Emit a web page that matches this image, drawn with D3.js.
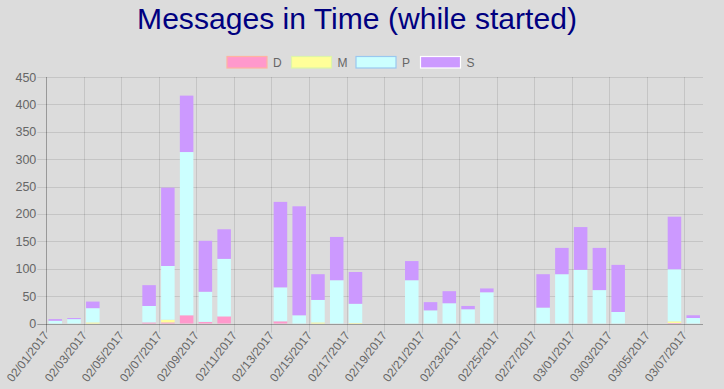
<!DOCTYPE html>
<html><head><meta charset="utf-8">
<script src="https://cdnjs.cloudflare.com/ajax/libs/d3/7.8.5/d3.min.js"></script>
<style>html,body{margin:0;padding:0;background:#dcdcdc;}svg{display:block;font-family:"Liberation Sans",Arial,Helvetica,sans-serif;}</style>
</head><body><svg id="c" width="724" height="389"></svg>
<script>
const dates = ["02/01/2017","02/02/2017","02/03/2017","02/04/2017","02/05/2017","02/06/2017","02/07/2017","02/08/2017","02/09/2017","02/10/2017","02/11/2017","02/12/2017","02/13/2017","02/14/2017","02/15/2017","02/16/2017","02/17/2017","02/18/2017","02/19/2017","02/20/2017","02/21/2017","02/22/2017","02/23/2017","02/24/2017","02/25/2017","02/26/2017","02/27/2017","02/28/2017","03/01/2017","03/02/2017","03/03/2017","03/04/2017","03/05/2017","03/06/2017","03/07/2017"];
const seriesD = [0,0,0,0,0,2,2,15,3,13,0,0,4,0,0,0,0,0,0,0,0,0,0,0,0,0,0,0,0,0,0,0,0,1,0];
const seriesM = [0,0,2,0,0,0,5,0,0,0,0,0,0,0,2,0,1,0,0,0,0,0,0,0,0,0,0,0,0,0,0,0,0,3,0];
const seriesP = [5,8,26,0,0,30,98,298,55,105,0,0,62,15,41,79,35,0,0,79,24,37,26,57,0,0,29,90,98,61,21,0,0,95,10];
const seriesS = [3,2,12,0,0,38,143,103,93,54,0,0,156,199,47,79,58,0,0,35,15,22,6,7,0,0,61,48,78,77,86,0,0,96,5];
const seriesNames = ["D","M","P","S"];
const tickLabels = ["02/01/2017","02/03/2017","02/05/2017","02/07/2017","02/09/2017","02/11/2017","02/13/2017","02/15/2017","02/17/2017","02/19/2017","02/21/2017","02/23/2017","02/25/2017","02/27/2017","03/01/2017","03/03/2017","03/05/2017","03/07/2017"];
const yTicks = [0,50,100,150,200,250,300,350,400,450];
const title = "Messages in Time (while started)";

const fills = {D:"#ff99cc", M:"#ffff99", P:"#ccffff", S:"#cc99ff"};
const borders = {D:"#ffb3a0", M:"#ddf5a8", P:"#99c8f0", S:"#ffffff"};

const parse = d3.timeParse("%m/%d/%Y");
const svg = d3.select("#c");
const L = 46.3, R = 703, T = 77, B = 323.5;

const x = d3.scaleTime().domain([parse(dates[0]), d3.timeDay.offset(parse(dates[dates.length-1]),1)]).range([L, R]);
const y = d3.scaleLinear().domain([0,450]).range([B, T]);
const dayW = x(d3.timeDay.offset(parse(dates[0]),1)) - x(parse(dates[0]));
const barW = dayW * 0.72;

// title
const t = svg.append("text").attr("x", 357).attr("y", 29).attr("text-anchor","middle")
  .attr("fill","#000080").attr("font-size",100).text(title);
const w100 = t.node().getComputedTextLength();
t.attr("font-size", 100*440/w100);

// legend
const legX = [227, 291.5, 356, 420.5];
seriesNames.forEach((n,i)=>{
  svg.append("rect").attr("x", legX[i]).attr("y", 56.5).attr("width", 40).attr("height", 11.5)
    .attr("fill", fills[n]).attr("stroke", borders[n]).attr("stroke-width", 1.2);
  svg.append("text").attr("x", legX[i]+46).attr("y", 66.5).attr("fill","#666").attr("font-size",12).text(n);
});

// grid
const g = svg.append("g");
yTicks.forEach(v=>{
  g.append("line").attr("x1", L-9).attr("x2", R).attr("y1", Math.round(y(v))+0.5).attr("y2", Math.round(y(v))+0.5)
    .attr("stroke", v===0 ? "rgba(0,0,0,0.3)" : "rgba(0,0,0,0.1)").attr("stroke-width",1);
  g.append("text").attr("x", L-10).attr("y", y(v)+4.5).attr("text-anchor","end").attr("fill","#666").attr("font-size",12.5).text(v);
});
tickLabels.forEach((lab,i)=>{
  const xx = Math.round(x(parse(lab)))+0.5;
  g.append("line").attr("x1", xx).attr("x2", xx).attr("y1", T).attr("y2", B+9)
    .attr("stroke", i===0 ? "rgba(0,0,0,0.3)" : "rgba(0,0,0,0.1)").attr("stroke-width",1);
  g.append("text").attr("transform", `translate(${xx+3},${B+12}) rotate(-52)`).attr("text-anchor","end")
    .attr("fill","#666").attr("font-size",12).text(lab);
});

// bars
const stackData = dates.map((d,i)=>({date: parse(d), D: seriesD[i], M: seriesM[i], P: seriesP[i], S: seriesS[i]}));
const stack = d3.stack().keys(seriesNames)(stackData);
stack.forEach(layer=>{
  svg.append("g").selectAll("rect").data(layer).join("rect")
    .attr("x", d => x(d.data.date) + (dayW - barW)/2 - 0.4)
    .attr("width", barW)
    .attr("y", d => y(d[1]))
    .attr("height", d => Math.max(0, y(d[0]) - y(d[1])))
    .attr("fill", fills[layer.key]);
});
</script></body></html>
